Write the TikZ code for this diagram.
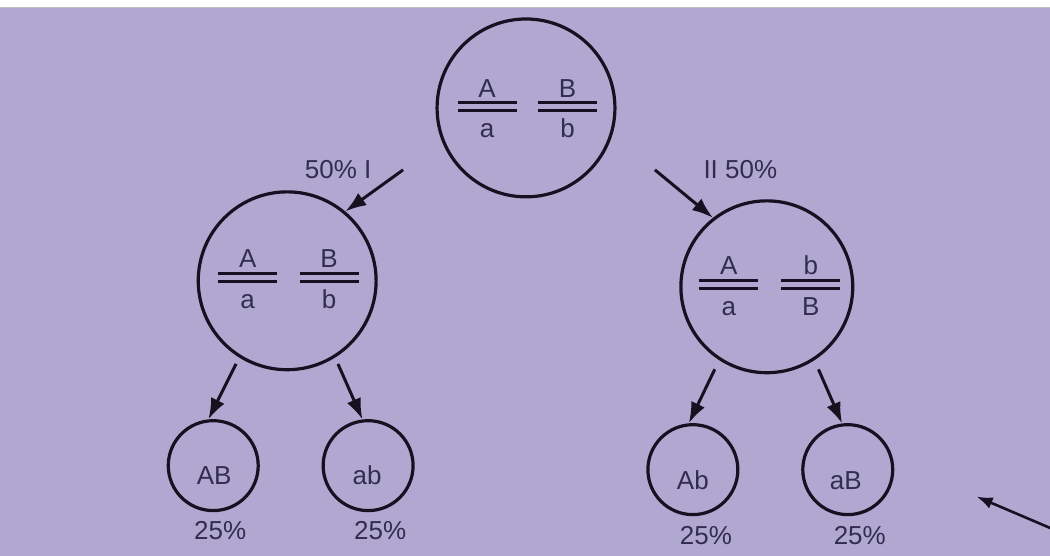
\documentclass[tikz,border=0pt]{standalone}
\usepackage{fontspec}
\setmainfont{Liberation Sans}
\usetikzlibrary{arrows.meta}
\definecolor{bg}{RGB}{177,168,210}
\definecolor{ink}{RGB}{22,16,32}
\definecolor{txt}{RGB}{50,45,80}
\newcommand\genepair[5]{%
  \draw[bar] (#2-29.5,#3-4) -- (#2+29.5,#3-4);
  \draw[bar] (#2-29.5,#3+4) -- (#2+29.5,#3+4);
  \node[lbl] (#1u) at (#2,#3-9.5) {#4};
  \node[lbl] (#1d) at (#2,#3+31) {#5};}
\begin{document}
\begin{tikzpicture}[x=1pt,y=-1pt,
  cell/.style={circle,draw=ink,line width=3.2pt,inner sep=0pt},
  lbl/.style={font=\fontsize{26}{26}\selectfont,text=txt,inner sep=0pt,anchor=base},
  arr/.style={draw=ink,line width=3pt,-{Latex[length=21pt,width=15pt]}},
  bar/.style={draw=ink,line width=3pt}]
\fill[bg] (0,0) rectangle (1050,556);
\fill[white] (0,0) rectangle (1050,7);
\draw[gray!50,line width=0.8pt] (0,7.5) -- (1050,7.5);
\useasboundingbox (0,0) rectangle (1050,556);

% circles
\node[cell,minimum size=178pt] (top) at (526,108) {};
\node[cell,minimum size=178pt] (lm) at (287,281) {};
\node[cell,minimum size=172pt] (rm) at (767,287) {};
\node[cell,minimum size=90pt] (AB) at (213,466) {};
\node[cell,minimum size=90pt] (ab) at (368,466) {};
\node[cell,minimum size=90pt] (Ab) at (693,470) {};
\node[cell,minimum size=90pt] (aB) at (848,470) {};

% chromosome pairs
\genepair{t1}{487}{107}{A}{a}
\genepair{t2}{567.5}{107}{B}{b}
\genepair{l1}{247.5}{277.5}{A}{a}
\genepair{l2}{329}{277.5}{B}{b}
\genepair{r1}{729}{284.5}{A}{a}
\genepair{r2}{811}{284.5}{b}{B}

% gamete labels
\node[lbl] (tAB) at (214,485) {AB};
\node[lbl] (tab) at (367,485) {ab};
\node[lbl] (tAb) at (693,490) {Ab};
\node[lbl] (taB) at (846,490) {aB};

% percentages
\node[lbl] (p1) at (338,179) {50\% I};
\node[lbl] (p2) at (740.5,179) {II 50\%};
\node[lbl] (q1) at (220,540) {25\%};
\node[lbl] (q2) at (380,540) {25\%};
\node[lbl] (q3) at (706,545) {25\%};
\node[lbl] (q4) at (860,545) {25\%};

% arrows
\coordinate (s1) at (403,170);
\coordinate (s2) at (655,170);
\draw[arr] (s1) -- (lm.50);
\draw[arr] (s2) -- (rm.128);
\draw[arr,shorten <=7pt] (lm.238) -- (AB.96);
\draw[arr,shorten <=7pt] (lm.302) -- (ab.97);
\draw[arr,shorten <=10pt] (rm.237) -- (Ab.95);
\draw[arr,shorten <=10pt] (rm.303) -- (aB.97);
\coordinate (s3) at (1052,529);
\coordinate (e3) at (977,497);
\draw[arr,line width=2.6pt,-{Latex[length=16pt,width=12pt]}] (s3) -- (e3);
\end{tikzpicture}
\end{document}
